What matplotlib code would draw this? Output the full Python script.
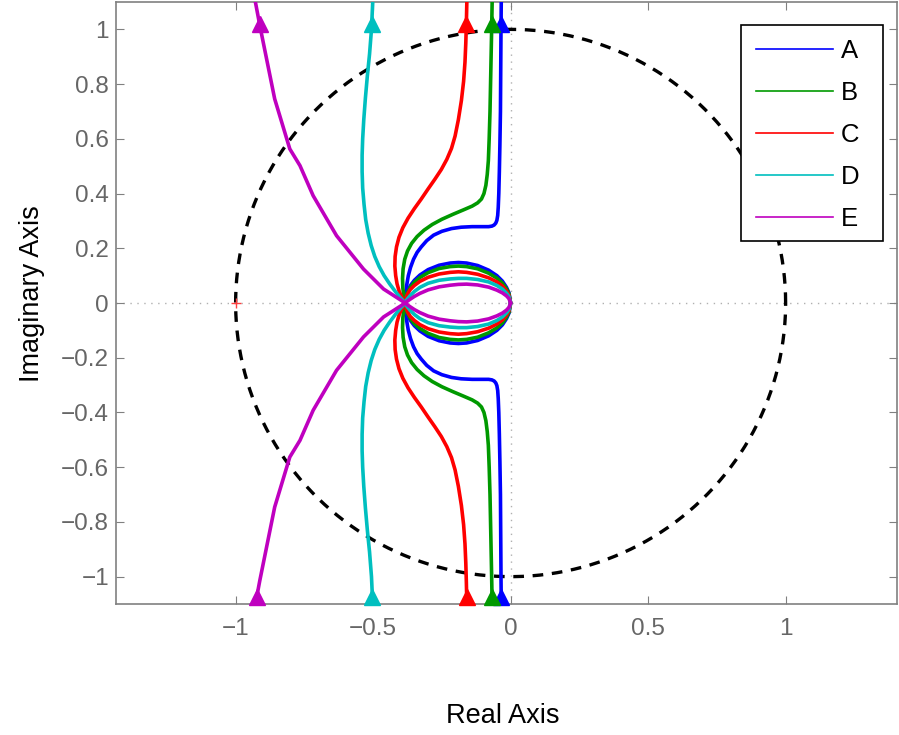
import numpy as np
import matplotlib
matplotlib.use('Agg')
import matplotlib.pyplot as plt
from matplotlib.lines import Line2D
from matplotlib.patches import Rectangle

plt.rcParams['font.family'] = ['Liberation Sans', 'DejaVu Sans']

# ---------------- data ----------------
labels = ['A', 'B', 'C', 'D', 'E']
colors = ['#0000ff', '#009900', '#ff0000', '#00bfbf', '#bf00bf']

# upper branches (from breakaway point upward); lower branches are conjugates
branch_A_x = [-0.383, -0.381, -0.378, -0.372, -0.364, -0.353, -0.340, -0.325, -0.305, -0.280, -0.250, -0.215,
              -0.180, -0.140, -0.100, -0.080, -0.068, -0.060, -0.054, -0.050, -0.047, -0.045, -0.043, -0.041,
              -0.039, -0.037, -0.036, -0.035, -0.034]
branch_A_y = [0.000, 0.030, 0.065, 0.100, 0.130, 0.160, 0.185, 0.205, 0.228, 0.248, 0.262, 0.272,
              0.277, 0.279, 0.279, 0.279, 0.281, 0.285, 0.292, 0.302, 0.320, 0.350, 0.400, 0.480,
              0.580, 0.700, 0.850, 1.000, 1.110]
branch_B_x = [-0.383, -0.388, -0.392, -0.393, -0.391, -0.385, -0.375, -0.360, -0.340, -0.315, -0.285, -0.250,
              -0.210, -0.170, -0.140, -0.120, -0.106, -0.097, -0.090, -0.085, -0.081, -0.078, -0.075, -0.072,
              -0.069, -0.067]
branch_B_y = [0.000, 0.025, 0.055, 0.090, 0.125, 0.160, 0.190, 0.218, 0.243, 0.266, 0.287, 0.306,
              0.324, 0.341, 0.354, 0.366, 0.380, 0.400, 0.430, 0.470, 0.520, 0.600, 0.700, 0.850,
              1.000, 1.110]
branch_C_x = [-0.383, -0.395, -0.405, -0.413, -0.418, -0.421, -0.420, -0.415, -0.406, -0.392, -0.373, -0.350,
              -0.325, -0.300, -0.275, -0.252, -0.232, -0.215, -0.202, -0.190, -0.179, -0.171, -0.166, -0.163,
              -0.161, -0.159]
branch_C_y = [0.000, 0.020, 0.042, 0.070, 0.100, 0.135, 0.170, 0.205, 0.240, 0.275, 0.310, 0.345,
              0.380, 0.417, 0.453, 0.488, 0.525, 0.565, 0.610, 0.670, 0.740, 0.810, 0.880, 0.950,
              1.020, 1.110]
branch_D_x = [-0.383, -0.400, -0.420, -0.440, -0.460, -0.478, -0.494, -0.507, -0.518, -0.527, -0.533, -0.538,
              -0.540, -0.540, -0.538, -0.534, -0.528, -0.521, -0.513, -0.506, -0.501]
branch_D_y = [0.000, 0.018, 0.043, 0.070, 0.100, 0.133, 0.170, 0.210, 0.255, 0.305, 0.360, 0.420,
              0.480, 0.540, 0.600, 0.670, 0.750, 0.830, 0.910, 1.000, 1.110]
branch_E_x = [-0.383, -0.462, -0.535, -0.633, -0.718, -0.766, -0.803, -0.858, -0.912, -0.930]
branch_E_y = [0.000, 0.051, 0.124, 0.246, 0.392, 0.502, 0.563, 0.746, 1.014, 1.110]

# upper halves of the loops between breakaway (-0.383, 0) and origin
loop_x = [-0.383, -0.380, -0.375, -0.365, -0.350, -0.330, -0.300, -0.260, -0.220, -0.190, -0.160, -0.120,
          -0.080, -0.050, -0.030, -0.015, -0.006, 0.000]
loop_A_y = [0.000, 0.026, 0.042, 0.063, 0.083, 0.102, 0.122, 0.138, 0.146, 0.148, 0.146, 0.137,
            0.120, 0.100, 0.080, 0.057, 0.037, 0.000]
loop_B_y = [0.000, 0.024, 0.038, 0.057, 0.076, 0.093, 0.111, 0.126, 0.133, 0.135, 0.133, 0.125,
            0.109, 0.091, 0.073, 0.052, 0.034, 0.000]
loop_C_y = [0.000, 0.020, 0.032, 0.049, 0.064, 0.079, 0.094, 0.106, 0.112, 0.114, 0.112, 0.105,
            0.092, 0.077, 0.062, 0.044, 0.028, 0.000]
loop_D_y = [0.000, 0.008, 0.015, 0.027, 0.042, 0.057, 0.072, 0.083, 0.088, 0.090, 0.090, 0.086,
            0.077, 0.064, 0.051, 0.036, 0.023, 0.000]
loop_E_y = [0.000, 0.003, 0.007, 0.014, 0.024, 0.035, 0.048, 0.059, 0.065, 0.068, 0.069, 0.066,
            0.058, 0.047, 0.037, 0.026, 0.016, 0.000]

branches_x = [branch_A_x, branch_B_x, branch_C_x, branch_D_x, branch_E_x]
branches_y = [branch_A_y, branch_B_y, branch_C_y, branch_D_y, branch_E_y]
loops_y = [loop_A_y, loop_B_y, loop_C_y, loop_D_y, loop_E_y]

# arrow markers
arrow_top_x = [-0.035, -0.069, -0.161, -0.505, -0.912]
arrow_top_y = 1.02
arrow_bot_x = [-0.034, -0.068, -0.160, -0.503, -0.922]
arrow_bot_y = -1.075

xticks = [-1, -0.5, 0, 0.5, 1]
xticklabels = ['\u22121', '\u22120.5', '0', '0.5', '1']
yticks = [-1, -0.8, -0.6, -0.4, -0.2, 0, 0.2, 0.4, 0.6, 0.8, 1]
yticklabels = ['\u22121', '\u22120.8', '\u22120.6', '\u22120.4', '\u22120.2', '0',
               '0.2', '0.4', '0.6', '0.8', '1']

# ---------------- plot ----------------
fig = plt.figure(figsize=(8.99, 7.35), dpi=100)
ax = fig.add_axes([116 / 899, 131 / 735, 781 / 899, 602 / 735])
ax.set_xlim(-1.435, 1.405)
ax.set_ylim(-1.1, 1.1)

# axis lines (dotted)
ax.axhline(0, color='#b0b0b0', lw=1.0, ls=(0, (1, 4)), zorder=1)
ax.axvline(0, color='#b0b0b0', lw=1.0, ls=(0, (1, 4)), zorder=1)

# unit circle
th = np.linspace(0, 2 * np.pi, 400)
ax.plot(np.cos(th), np.sin(th), color='black', lw=2.4, ls=(0, (3.2, 2.6)), zorder=2)

# critical point
ax.plot([-1], [0], marker='+', color='#ff4040', ms=7, mew=1.0, zorder=3)

for i in range(len(labels)):
    c = colors[i]
    bx = np.array(branches_x[i]); by = np.array(branches_y[i])
    lx = np.array(loop_x); ly = np.array(loops_y[i])
    kw = dict(color=c, lw=2.6, zorder=4 + i, solid_capstyle='round', solid_joinstyle='round')
    ax.plot(bx, by, **kw)
    ax.plot(bx, -by, **kw)
    ax.plot(lx, ly, **kw)
    ax.plot(lx, -ly, **kw)
    ax.plot([arrow_top_x[i]], [arrow_top_y], marker='^', color=c, ms=11, mec=c, zorder=10 + i)
    ax.plot([arrow_bot_x[i]], [arrow_bot_y], marker='^', color=c, ms=11, mec=c, zorder=10 + i, clip_on=False)

ax.set_xticks(xticks)
ax.set_xticklabels(xticklabels)
ax.set_yticks(yticks)
ax.set_yticklabels(yticklabels)
ax.tick_params(direction='in', length=6, width=0.8, colors='#808080', labelcolor='#666666',
               labelsize=17.5, top=True, right=True)
ax.tick_params(axis='x', pad=10)
ax.tick_params(axis='y', pad=5)
for s in ax.spines.values():
    s.set_color('#808080')
    s.set_linewidth(1.2)

fig.text(503 / 899, 1 - 716 / 735, 'Real Axis', ha='center', va='center', fontsize=19.5, color='black')
fig.text(32 / 899, 1 - 294 / 735, 'Imaginary Axis', ha='center', va='center', rotation=90,
         fontsize=19.5, color='black')

# legend frame
frame = Rectangle((741 / 899, 1 - 241 / 735), (883 - 741) / 899, (241 - 25) / 735,
                  transform=fig.transFigure, facecolor='white', edgecolor='black', lw=1.2, zorder=19)
ax.add_artist(frame)
frame.set_clip_on(False)

handles = [Line2D([0], [0], color=colors[i], lw=1.2) for i in range(len(labels))]
leg = ax.legend(handles, labels, loc='upper left', bbox_to_anchor=(756 / 899, 1 - 39 / 735),
                bbox_transform=fig.transFigure, fontsize=18.5, handlelength=3.0,
                handletextpad=0.3, labelspacing=0.7, borderpad=0, borderaxespad=0,
                frameon=False)
leg.set_zorder(20)

fig.savefig('out.png', dpi=100)
